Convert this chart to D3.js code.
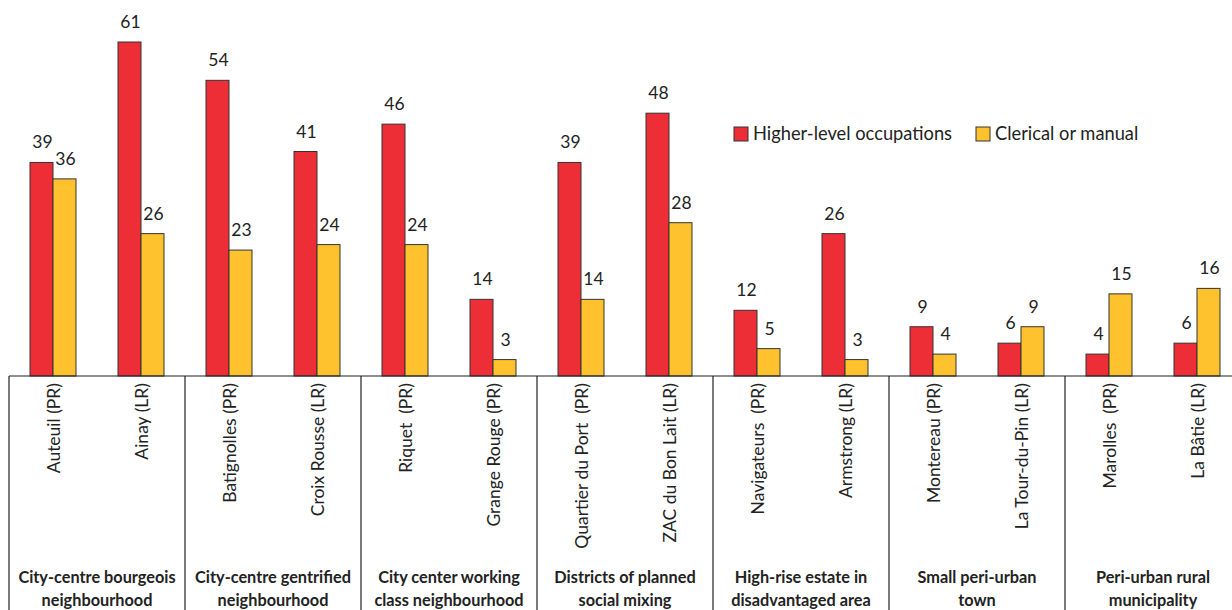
<!DOCTYPE html>
<html>
<head>
<meta charset="utf-8">
<script src="https://cdn.jsdelivr.net/npm/d3@7"></script>
<style>
  body { margin: 0; background: #fff; }
  svg { display: block; font-family: Lato, "Open Sans", sans-serif; }
</style>
</head>
<body>
<script>
// neighbourhoods, two per neighbourhood type
var places = ["Auteuil (PR)", "Ainay (LR)", "Batignolles (PR)", "Croix Rousse (LR)",
              "Riquet  (PR)", "Grange Rouge (PR)", "Quartier du Port  (PR)", "ZAC du Bon Lait (LR)",
              "Navigateurs  (PR)", "Armstrong (LR)", "Montereau (PR)", "La Tour-du-Pin (LR)",
              "Marolles  (PR)", "La Bâtie (LR)"];
var higher = [39, 61, 54, 41, 46, 14, 39, 48, 12, 26, 9, 6, 4, 6];
var clerical = [36, 26, 23, 24, 24, 3, 14, 28, 5, 3, 4, 9, 15, 16];
var seriesNames = ["Higher-level occupations", "Clerical or manual"];
var groups = [["City-centre bourgeois", "neighbourhood"],
              ["City-centre gentrified", "neighbourhood"],
              ["City center working", "class neighbourhood"],
              ["Districts of planned", "social mixing"],
              ["High-rise estate in", "disadvantaged area"],
              ["Small peri-urban", "town"],
              ["Peri-urban rural", "municipality"]];

var width = 1232, height = 610;
var colors = ["#ee2e36", "#fec22e"];

var svg = d3.select("body").append("svg")
    .attr("width", width)
    .attr("height", height);

// x: one band per neighbourhood, 88px each starting at x=9
var x = d3.scaleBand()
    .domain(places)
    .range([9, 9 + 88 * places.length])
    .padding(0);

// inner band for the two bars
var xi = d3.scaleBand()
    .domain(seriesNames)
    .range([x.bandwidth() / 2 - 23, x.bandwidth() / 2 + 23]);

var y = d3.scaleLinear()
    .domain([0, 61])
    .range([376, 42]);

var rows = places.map(function(p, i){
  return {place: p, values: [higher[i], clerical[i]]};
});

var cat = svg.selectAll(".cat")
    .data(rows)
    .enter().append("g")
    .attr("class", "cat")
    .attr("transform", function(d){ return "translate(" + x(d.place) + ",0)"; });

cat.selectAll("rect")
    .data(function(d){ return d.values.map(function(v, j){ return {s: seriesNames[j], v: v, j: j}; }); })
    .enter().append("rect")
    .attr("x", function(d){ return xi(d.s); })
    .attr("y", function(d){ return y(d.v); })
    .attr("width", xi.bandwidth())
    .attr("height", function(d){ return y(0) - y(d.v); })
    .attr("fill", function(d){ return colors[d.j]; })
    .attr("stroke", "#333")
    .attr("stroke-width", 1);

// value labels
cat.selectAll("text.val")
    .data(function(d){ return d.values.map(function(v, j){ return {s: seriesNames[j], v: v}; }); })
    .enter().append("text")
    .attr("class", "val")
    .attr("x", function(d){ return xi(d.s) + xi.bandwidth() / 2 + 1; })
    .attr("y", function(d){ return y(d.v) - 14; })
    .attr("text-anchor", "middle")
    .attr("font-size", 17.5)
    .attr("fill", "#222")
    .text(function(d){ return d.v; });

// category labels (rotated)
cat.append("text")
    .attr("transform", "translate(" + (x.bandwidth() / 2 + 1) + ",383) rotate(-90)")
    .attr("text-anchor", "end")
    .attr("dy", "0.35em")
    .attr("font-size", 17.5)
    .attr("fill", "#222")
    .style("white-space", "pre")
    .text(function(d){ return d.place; });

// baseline and group separators
svg.append("line")
    .attr("x1", 9).attr("x2", width)
    .attr("y1", y(0)).attr("y2", y(0))
    .attr("stroke", "#222").attr("stroke-width", 1.2);

var groupW = x.bandwidth() * 2;
svg.selectAll(".sep")
    .data(d3.range(groups.length + 1))
    .enter().append("line")
    .attr("class", "sep")
    .attr("x1", function(i){ return 9 + i * groupW; })
    .attr("x2", function(i){ return 9 + i * groupW; })
    .attr("y1", y(0)).attr("y2", height)
    .attr("stroke", "#222").attr("stroke-width", 1.2);

// group labels
var gl = svg.selectAll(".grp")
    .data(groups)
    .enter().append("text")
    .attr("class", "grp")
    .attr("text-anchor", "middle")
    .attr("font-size", 16.3)
    .attr("font-weight", "bold")
    .attr("fill", "#222");

gl.selectAll("tspan")
    .data(function(d, i){ return d.map(function(t){ return {t: t, i: i}; }); })
    .enter().append("tspan")
    .attr("x", function(d){ return 9 + d.i * groupW + groupW / 2; })
    .attr("y", function(d, k){ return 583 + k * 23; })
    .text(function(d){ return d.t; });

// legend
var legend = svg.append("g").attr("transform", "translate(734,127)");
var lx = [0, 242];
seriesNames.forEach(function(s, j){
  var item = legend.append("g").attr("transform", "translate(" + lx[j] + ",0)");
  item.append("rect")
      .attr("width", 14).attr("height", 14)
      .attr("fill", colors[j])
      .attr("stroke", "#333");
  item.append("text")
      .attr("x", 19).attr("y", 13)
      .attr("font-size", 18.3)
      .attr("fill", "#222")
      .text(s);
});
</script>
</body>
</html>
